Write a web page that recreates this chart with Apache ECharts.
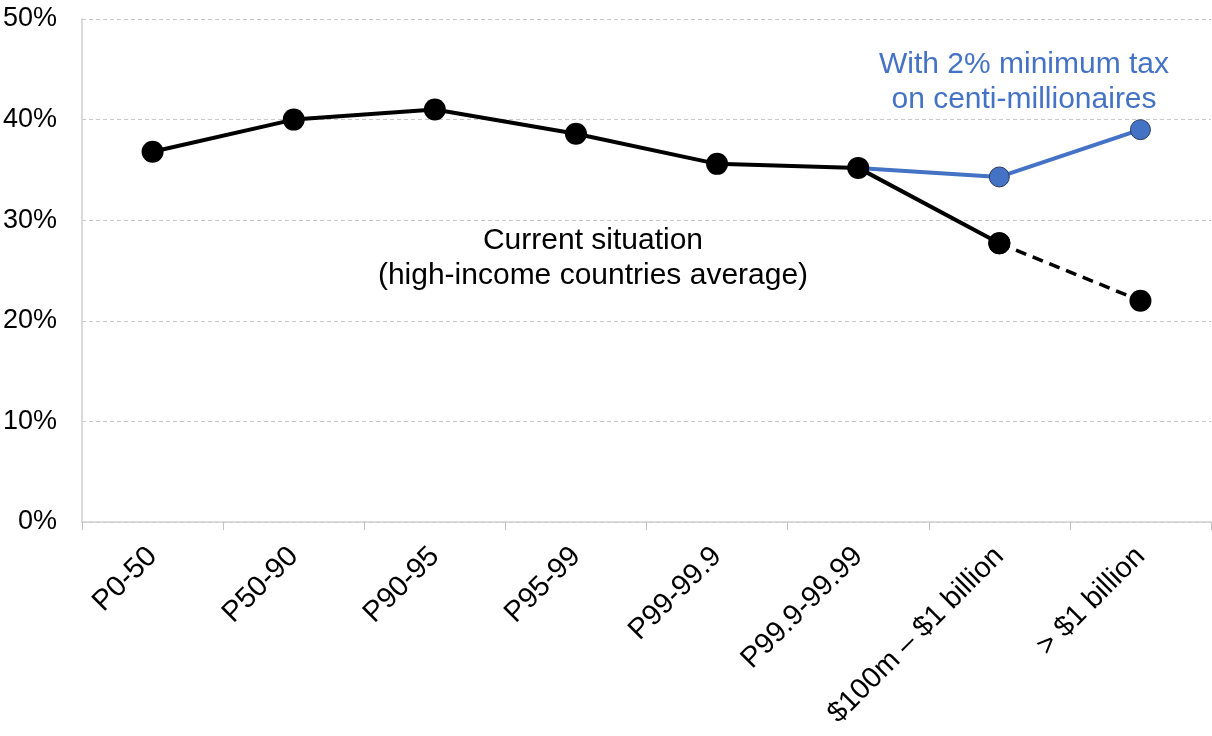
<!DOCTYPE html>
<html>
<head>
<meta charset="utf-8">
<script src="https://cdn.jsdelivr.net/npm/echarts@6/dist/echarts.min.js"></script>
<style>html,body{margin:0;padding:0;background:#fff}#c{width:1212px;height:736px}</style>
</head>
<body>
<div id="c"></div>
<script>
const categories = ['P0-50','P50-90','P90-95','P95-99','P99-99.9','P99.9-99.99','$100m – $1 billion','> $1 billion'];
const currentSolid = [36.8, 40.0, 41.0, 38.6, 35.6, 35.2, 27.7, null];
const currentDashed = [null, null, null, null, null, null, 27.7, 22.0];
const withTax = [null, null, null, null, null, 35.2, 34.3, 39.0];
const yTicks = [0, 10, 20, 30, 40, 50];
const currentLabel = ['Current situation', '(high-income countries average)'];
const taxLabel = ['With 2% minimum tax', 'on centi-millionaires'];

const FONT = '"Liberation Sans", Arial, Helvetica, sans-serif';
const chart = echarts.init(document.getElementById('c'), null, {renderer: 'canvas'});
const blank = a => a.map(v => v === null ? '-' : v);

chart.setOption({
  animation: false,
  backgroundColor: '#fff',
  grid: {left: 82, right: 1, top: 19, bottom: 214, containLabel: false},
  xAxis: {
    type: 'category',
    data: categories,
    boundaryGap: true,
    axisLine: {lineStyle: {color: '#cfcfcf', width: 1.5}},
    axisTick: {show: true, length: 8, lineStyle: {color: '#bfbfbf'}},
    axisLabel: {rotate: 45, fontSize: 29, color: '#000', fontFamily: FONT, margin: 30, interval: 0}
  },
  yAxis: {
    type: 'value',
    min: yTicks[0], max: yTicks[yTicks.length - 1], interval: 10,
    axisLine: {show: true, lineStyle: {color: '#cfcfcf', width: 1.5}},
    axisTick: {show: false},
    splitLine: {lineStyle: {color: '#c8c8c8', type: [4, 3], width: 1}},
    axisLabel: {formatter: '{value}%', fontSize: 27, color: '#000', fontFamily: FONT, margin: 25}
  },
  series: [
    {
      type: 'line', data: blank(withTax), z: 2,
      lineStyle: {color: '#4472C4', width: 4},
      symbol: 'circle', symbolSize: 20,
      itemStyle: {color: '#4472C4', borderColor: '#2b3d5e', borderWidth: 1},
      showAllSymbol: true
    },
    {
      type: 'line', data: blank(currentDashed), z: 3,
      lineStyle: {color: '#000', width: 3.5, type: [11, 7]},
      symbol: 'circle', symbolSize: 22,
      itemStyle: {color: '#000'}
    },
    {
      type: 'line', data: blank(currentSolid), z: 4,
      lineStyle: {color: '#000', width: 4},
      symbol: 'circle', symbolSize: 22,
      itemStyle: {color: '#000'}
    }
  ],
  graphic: [
    {type: 'text', left: 593 - 250, top: 223, z: 10,
     style: {text: currentLabel.join('\n'), width: 500, x: 250, textAlign: 'center',
             font: '30px ' + FONT, fill: '#000', lineHeight: 35}},
    {type: 'text', left: 1024 - 250, top: 47, z: 10,
     style: {text: taxLabel.join('\n'), width: 500, x: 250, textAlign: 'center',
             font: '30px ' + FONT, fill: '#4472C4', lineHeight: 35}}
  ]
});
</script>
</body>
</html>
